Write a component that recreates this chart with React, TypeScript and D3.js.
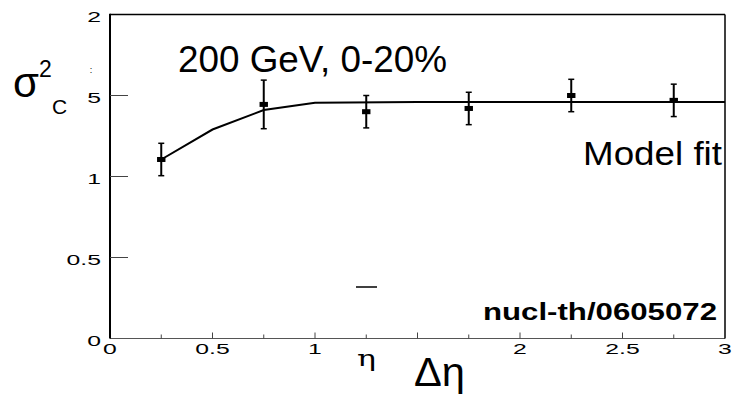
import React from "react";
import * as d3 from "d3";

// Measured charge-balance variance vs. pseudorapidity window
const etaValues = [0.25, 0.75, 1.25, 1.75, 2.25, 2.75];
const sigmaValues = [1.105, 1.445, 1.4, 1.42, 1.5, 1.47];
const sigmaErrors = [0.1, 0.15, 0.1, 0.1, 0.1, 0.1];

// Model fit curve
const fitEta = [0.25, 0.5, 0.75, 1.0, 1.5, 2.0, 2.5, 3.0];
const fitSigma = [1.105, 1.29, 1.41, 1.455, 1.46, 1.46, 1.46, 1.46];

// Axis ticks and labels
const xMajorTicks = [0.5, 1, 1.5, 2, 2.5];
const xMinorTicks = [0.25, 0.75, 1.25, 1.75, 2.25, 2.75];
const xTickValues = [0, 0.5, 1, 2, 2.5, 3];
const xTickLabels = ["0", "0.5", "1", "2", "2.5", "3"];
const yTickValues = [2, 1.5, 1, 0.5, 0];
const yTickLabels = ["2", "5", "1", "0.5", "0"];
const yTickMarks = [0.5, 1, 1.5];

const W = 733;
const H = 395;
const FONT = "'Liberation Sans', Arial, Helvetica, sans-serif";

export default function App() {
  const x = d3.scaleLinear().domain([0, 3]).range([110, 725]);
  const y = d3.scaleLinear().domain([0, 2]).range([338.5, 14.5]);

  const fitLine = d3
    .line<number>()
    .x((_, i) => x(fitEta[i]))
    .y((d) => y(d))(fitSigma) as string;

  const labelScale = 1.65;

  return (
    <svg
      width={W}
      height={H}
      style={{ position: "absolute", left: 0, top: 0, background: "#fff" }}
      fontFamily={FONT}
    >
      <rect x={0} y={0} width={W} height={H} fill="#fff" />

      {/* frame */}
      <line x1={x(0)} x2={x(3)} y1={y(0)} y2={y(0)} stroke="#555" strokeWidth={1} />
      <line x1={x(0)} x2={x(3)} y1={y(2)} y2={y(2)} stroke="#000" strokeWidth={1.5} />
      <line x1={x(3)} x2={x(3)} y1={y(2)} y2={y(0)} stroke="#000" strokeWidth={1.5} />
      <line x1={x(0)} x2={x(0)} y1={y(2) - 0.75} y2={y(0)} stroke="#000" strokeWidth={2} />

      {/* y ticks */}
      {yTickMarks.map((v) => (
        <line key={"yt" + v} x1={x(0)} x2={x(0) + 18} y1={y(v)} y2={y(v)} stroke="#444" strokeWidth={1} />
      ))}
      {/* x ticks */}
      {xMajorTicks.map((v) => (
        <line key={"xM" + v} x1={x(v)} x2={x(v)} y1={y(0)} y2={y(0) - 6} stroke="#444" strokeWidth={1} />
      ))}
      {xMinorTicks.map((v) => (
        <line key={"xm" + v} x1={x(v)} x2={x(v)} y1={y(0)} y2={y(0) - 4} stroke="#444" strokeWidth={1} />
      ))}

      {/* y tick labels */}
      {yTickValues.map((v, i) => (
        <text
          key={"yl" + v}
          transform={`translate(101,${y(v) + 7.3}) scale(${labelScale},1)`}
          textAnchor="end"
          fontSize={15}
          fill="#000"
        >
          {yTickLabels[i]}
        </text>
      ))}
      <text transform="translate(91,73)" textAnchor="middle" fontSize={9} fill="#000">
        :
      </text>

      {/* x tick labels */}
      {xTickValues.map((v, i) => (
        <text
          key={"xl" + v}
          transform={`translate(${x(v)},353.5) scale(${labelScale},1)`}
          textAnchor="middle"
          fontSize={15}
          fill="#000"
        >
          {xTickLabels[i]}
        </text>
      ))}

      {/* model fit */}
      <path d={fitLine} fill="none" stroke="#000" strokeWidth={2} />

      {/* data with error bars */}
      {etaValues.map((e, i) => {
        const cx = x(e);
        const top = y(sigmaValues[i] + sigmaErrors[i]);
        const bot = y(sigmaValues[i] - sigmaErrors[i]);
        const cy = y(sigmaValues[i]);
        return (
          <g key={"p" + i}>
            <line x1={cx} x2={cx} y1={top} y2={bot} stroke="#000" strokeWidth={2} />
            <line x1={cx - 3} x2={cx + 3} y1={top} y2={top} stroke="#000" strokeWidth={1.5} />
            <line x1={cx - 3} x2={cx + 3} y1={bot} y2={bot} stroke="#000" strokeWidth={1.5} />
            <rect x={cx - 4.2} y={cy - 2.5} width={8.4} height={5} fill="#000" />
          </g>
        );
      })}

      {/* annotations */}
      <text x={178} y={72} fontSize={37} textLength={269} lengthAdjust="spacingAndGlyphs" fill="#000">
        200 GeV, 0-20%
      </text>
      <text x={583} y={165} fontSize={33} textLength={139} lengthAdjust="spacingAndGlyphs" fill="#000">
        Model fit
      </text>
      <text
        x={483}
        y={320}
        fontSize={24}
        fontWeight="bold"
        textLength={234}
        lengthAdjust="spacingAndGlyphs"
        fill="#000"
      >
        nucl-th/0605072
      </text>

      {/* axis titles */}
      <text x={13} y={97} fontSize={42} fill="#000">
        σ
      </text>
      <text x={39} y={77} fontSize={23} fill="#000">
        2
      </text>
      <text x={52} y={113.5} fontSize={21} fill="#000">
        C
      </text>
      <text x={414} y={386} fontSize={40} textLength={51} lengthAdjust="spacingAndGlyphs" fill="#000">
        Δη
      </text>
      <text
        x={357}
        y={366}
        fontSize={22}
        textLength={19}
        lengthAdjust="spacingAndGlyphs"
        fontFamily="'DejaVu Serif', 'Liberation Serif', serif"
        fill="#000"
      >
        η
      </text>
      <line x1={356} x2={377} y1={287} y2={287} stroke="#000" strokeWidth={1.5} />
    </svg>
  );
}
